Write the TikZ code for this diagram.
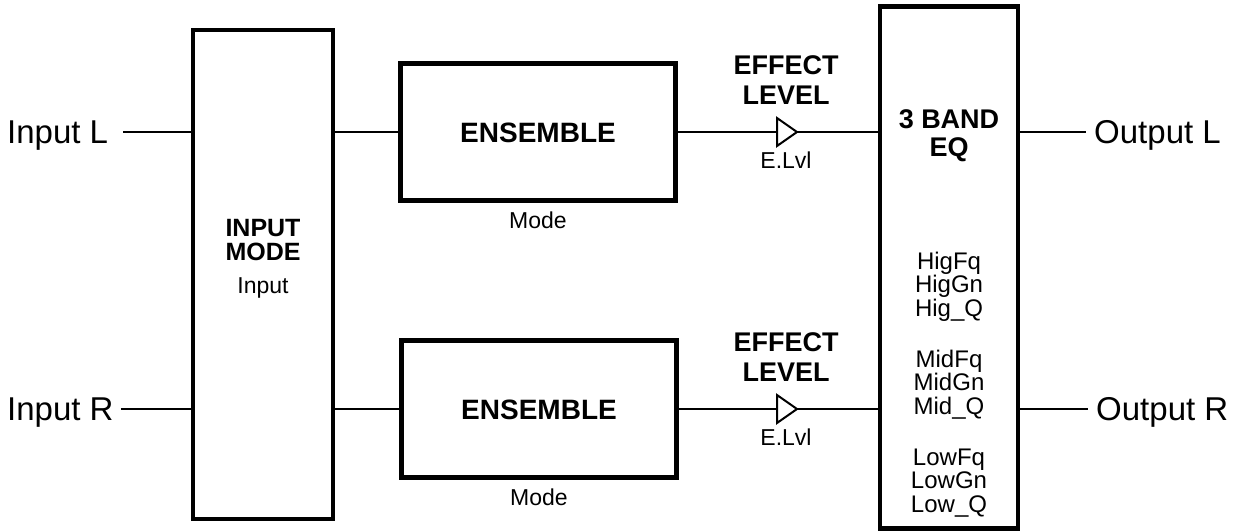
\documentclass[tikz,border=0pt]{standalone}
\usepackage{fontspec}
\setmainfont{Liberation Sans}
\begin{document}
\begin{tikzpicture}[x=1pt,y=-1pt,
  box/.style={draw, line width=4.5pt, inner sep=0pt},
  ensbox/.style={box, minimum width=275pt, minimum height=137pt,
    font=\bfseries\fontsize{28}{30}\selectfont, text height=20pt, text depth=0pt},
  wire/.style={line width=2pt},
  io/.style={font=\fontsize{33}{38}\selectfont, text height=23.6pt, text depth=0pt, inner sep=0pt},
  bigb/.style={font=\bfseries\fontsize{27}{30}\selectfont, align=center, inner sep=0pt},
  small/.style={font=\fontsize{23}{26}\selectfont, inner sep=0pt, text height=16.5pt, text depth=0pt},
  params/.style={font=\fontsize{24}{23.5}\selectfont, align=center, inner sep=0pt}]

\useasboundingbox[fill=white] (0,0) rectangle (1238,531);

% main blocks
\node[box, minimum width=140pt, minimum height=489pt] (inmode) at (263,274.5) {};
\node[ensbox] (ens1) at (538,132) {ENSEMBLE};
\node[ensbox] (ens2) at (539,409) {ENSEMBLE};
\node[box, minimum width=138pt, minimum height=522pt] (eq) at (949,267.5) {};

% texts in blocks
\node[bigb, font=\bfseries\fontsize{25}{23.5}\selectfont] (imt) at (263,240) {INPUT\\MODE};
\node[small] (imp) at (263,285) {Input};
\node[small] (mode1) at (538,220) {Mode};
\node[small] (mode2) at (539,497) {Mode};
\node[bigb, font=\bfseries\fontsize{27}{28}\selectfont] (eqt) at (949,136) {3 BAND\\EQ};
\node[params, anchor=north] (eqp) at (949,251.5)
  {HigFq\\HigGn\\Hig\_Q\\[27.5pt]MidFq\\MidGn\\Mid\_Q\\[27.5pt]LowFq\\LowGn\\Low\_Q};

% effect level
\node[bigb] (el1) at (786,80) {EFFECT\\LEVEL};
\node[bigb] (el2) at (786,357) {EFFECT\\LEVEL};
\node[small] (lv1) at (786,160) {E.Lvl};
\node[small] (lv2) at (786,437) {E.Lvl};
\draw[wire] (777,118) -- (777,146) -- (797,132) -- cycle;
\draw[wire] (777,395) -- (777,423) -- (797,409) -- cycle;
\coordinate (t1in) at (777,132);
\coordinate (t1out) at (797,132);
\coordinate (t2in) at (777,409);
\coordinate (t2out) at (797,409);

% io labels
\node[io, anchor=west] (inL) at (7,132) {Input L};
\node[io, anchor=west] (inR) at (7,409) {Input R};
\node[io, anchor=west] (outL) at (1094,132) {Output L};
\node[io, anchor=west] (outR) at (1096,409) {Output R};

% connectors
\draw[wire] ([xshift=15pt]inL.east) -- (inL.east -| inmode.west);
\draw[wire] ([xshift=7pt]inR.east) -- (inR.east -| inmode.west);
\draw[wire] (inmode.east |- ens1.west) -- (ens1.west);
\draw[wire] (inmode.east |- ens2.west) -- (ens2.west);
\draw[wire] (ens1.east) -- (t1in);
\draw[wire] (ens2.east) -- (t2in);
\draw[wire] (t1out) -- (t1out -| eq.west);
\draw[wire] (t2out) -- (t2out -| eq.west);
\draw[wire] (eq.east |- outL.west) -- ([xshift=-8pt]outL.west);
\draw[wire] (eq.east |- outR.west) -- ([xshift=-8pt]outR.west);
\end{tikzpicture}
\end{document}
